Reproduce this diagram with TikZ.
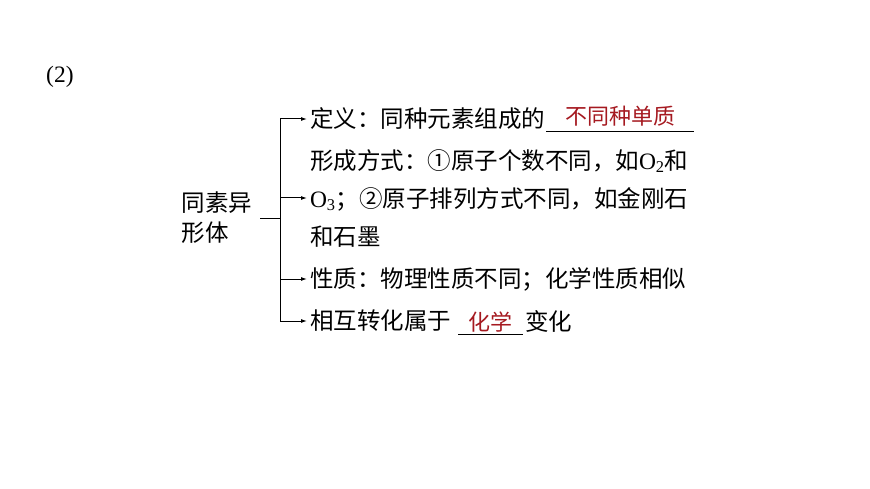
\documentclass[tikz,border=0pt]{standalone}
\usepackage{fontspec}
\setmainfont{Liberation Serif}
\newfontfamily\cjk{Noto Sans CJK SC}
\usetikzlibrary{positioning, arrows.meta}

\definecolor{ansred}{RGB}{165,25,32}
\newcommand{\molecule}[2]{{\rmfamily #1\textsubscript{#2}}}

\tikzset{
  txt/.style={inner sep=0pt, outer xsep=3pt, anchor=west, align=left,
    font=\cjk\fontsize{23.5pt}{38pt}\selectfont},
  blank/.style={inner sep=0pt, outer sep=0pt, text=ansred,
    font=\cjk\fontsize{22pt}{22pt}\selectfont},
  branch/.style={-{Latex[length=6pt, width=4pt]}, line width=1pt},
  rule/.style={line width=0.9pt},
}

\begin{document}
\begin{tikzpicture}[x=1pt, y=-1pt]

  \useasboundingbox (0,0) rectangle (870,489);

  \node[anchor=west, inner sep=0pt, font=\fontsize{23.5pt}{28pt}\selectfont] (part) at (46,77) {(2)};

  % root of the tree
  \node[txt, anchor=east, outer xsep=8pt, font=\cjk\fontsize{23.5pt}{30pt}\selectfont] (root) at (260,218) {同素异\\形体};
  \coordinate[right=20pt of root] (fork);
  \draw[rule] (root) -- (fork);

  % branches
  \node[txt] (def)  at (307,119) {定义：同种元素组成的};
  \node[txt] (form) at (307,198) {形成方式：①原子个数不同，如\molecule{O}{2}和\\
    \molecule{O}{3}；②原子排列方式不同，如金刚石\\
    和石墨};
  \node[txt] (prop) at (307,279) {性质：物理性质不同；化学性质相似};
  \node[txt] (conv) at (307,321) {相互转化属于};

  % blanks with answers
  \node[blank, minimum width=148pt, right=-2pt of def, yshift=3pt] (ans-def) {不同种单质};
  \node[blank, minimum width=65pt, right=4pt of conv, yshift=-1pt] (ans-conv) {化学};
  \node[txt, inner sep=0pt, outer sep=0pt, right=2pt of ans-conv, yshift=1pt] (conv-end) {变化};

  \draw[rule] ([yshift=-5pt]ans-def.south west) to ([yshift=-5pt]ans-def.south east);
  \draw[rule] ([yshift=-2pt]ans-conv.south west) to ([yshift=-2pt]ans-conv.south east);

  \draw[branch] (fork) |- (def.west);
  \draw[branch] (fork) |- (form.west);
  \draw[branch] (fork) |- (prop.west);
  \draw[branch] (fork) |- (conv.west);

\end{tikzpicture}
\end{document}
